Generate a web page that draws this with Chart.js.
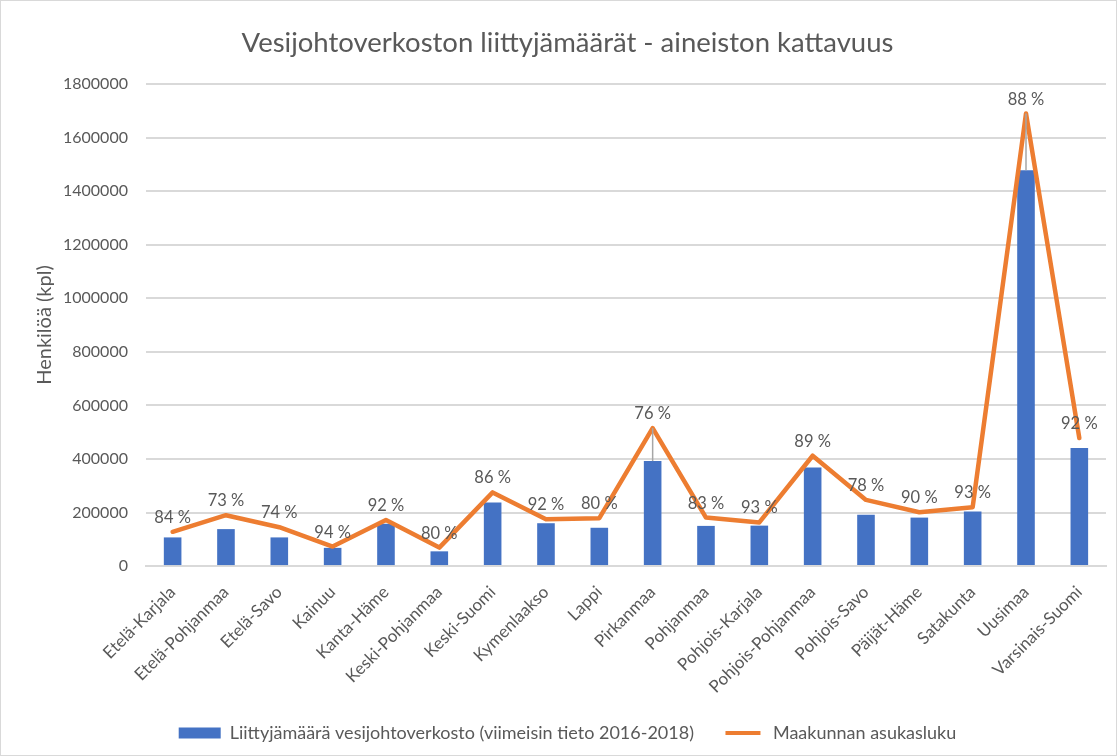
<!DOCTYPE html>
<html>
<head>
<meta charset="utf-8">
<script src="https://cdn.jsdelivr.net/npm/chart.js@4"></script>
<style>
  html, body { margin: 0; padding: 0; background: #fff; }
  #wrap { width: 1115px; height: 754px; border: 1px solid #d9d9d9; position: relative; }
</style>
</head>
<body>
<div id="wrap"><canvas id="chart"></canvas></div>
<script>
// regions
var categories = ['Etelä-Karjala', 'Etelä-Pohjanmaa', 'Etelä-Savo', 'Kainuu', 'Kanta-Häme',
    'Keski-Pohjanmaa', 'Keski-Suomi', 'Kymenlaakso', 'Lappi', 'Pirkanmaa', 'Pohjanmaa',
    'Pohjois-Karjala', 'Pohjois-Pohjanmaa', 'Pohjois-Savo', 'Päijät-Häme', 'Satakunta',
    'Uusimaa', 'Varsinais-Suomi'];
// connections to water network (bars)
var liittyjat = [107000, 138000, 107000, 68000, 158000, 55000, 237000, 160000, 143000,
    392000, 150000, 151000, 368000, 192000, 181000, 204000, 1478000, 441000];
// population per region (line)
var asukkaat = [128000, 190000, 145000, 73000, 172000, 69000, 275000, 175000, 179000,
    515000, 181000, 163000, 412000, 247000, 201000, 220000, 1690000, 478000];
// coverage labels
var kattavuus = [84, 73, 74, 94, 92, 80, 86, 92, 80, 76, 83, 93, 89, 78, 90, 93, 88, 92];
var yTicks = [0, 200000, 400000, 600000, 800000, 1000000, 1200000, 1400000, 1600000, 1800000];

var grey = '#595959';

// labels belong to the bars, moved up to the line; long ones get a leader line
var pctLabels = {
    id: 'pctLabels',
    afterDatasetsDraw: function (chart) {
        var ctx = chart.ctx;
        var bars = chart.getDatasetMeta(0).data;
        var pts = chart.getDatasetMeta(1).data;
        ctx.save();
        ctx.strokeStyle = '#a6a6a6';
        ctx.lineWidth = 1.5;
        pts.forEach(function (pt, i) {
            if (bars[i].y - pt.y > 25) {
                ctx.beginPath();
                ctx.moveTo(pt.x, bars[i].y);
                ctx.lineTo(pt.x, pt.y);
                ctx.stroke();
            }
        });
        ctx.font = '16.5px Lato, "Open Sans", sans-serif';
        ctx.fillStyle = grey;
        ctx.textAlign = 'center';
        ctx.textBaseline = 'bottom';
        pts.forEach(function (pt, i) {
            ctx.fillText(kattavuus[i] + ' %', pt.x, pt.y - 6);
        });
        ctx.restore();
    }
};

Chart.defaults.font.family = 'Lato, "Open Sans", sans-serif';
Chart.defaults.color = grey;

new Chart('chart', {
    type: 'bar',
    data: {
        labels: categories,
        datasets: [{
            type: 'bar',
            label: 'Liittyjämäärä vesijohtoverkosto (viimeisin tieto 2016-2018)',
            data: liittyjat,
            backgroundColor: '#4472C4',
            barPercentage: 0.33,
            categoryPercentage: 1,
            order: 1
        }, {
            type: 'line',
            label: 'Maakunnan asukasluku',
            data: asukkaat,
            borderColor: '#ED7D31',
            backgroundColor: '#ED7D31',
            borderWidth: 4.5,
            borderJoinStyle: 'round',
            borderCapStyle: 'round',
            pointRadius: 0,
            tension: 0,
            order: 0
        }]
    },
    options: {
        responsive: true,
        maintainAspectRatio: false,
        animation: false,
        layout: {
            padding: { left: 28, right: 10, top: 0, bottom: 3 }
        },
        scales: {
            y: {
                min: 0,
                max: 1800000,
                afterBuildTicks: function (axis) {
                    axis.ticks = yTicks.map(function (v) { return { value: v }; });
                },
                afterFit: function (axis) {
                    axis.width -= 20;
                },
                ticks: {
                    font: { size: 16 },
                    padding: 18,
                    callback: function (v) { return v; }
                },
                grid: { color: '#d9d9d9', lineWidth: 2, drawTicks: false },
                border: { display: false },
                title: {
                    display: true,
                    text: 'Henkilöä (kpl)',
                    font: { size: 20 },
                    padding: { top: 4, bottom: 8 }
                }
            },
            x: {
                afterFit: function (axis) {
                    axis.height -= 9;
                },
                ticks: {
                    font: { size: 17 },
                    minRotation: 45,
                    maxRotation: 45,
                    autoSkip: false,
                    padding: 8
                },
                grid: { display: false },
                border: { color: '#d9d9d9', width: 2 }
            }
        },
        plugins: {
            title: {
                display: true,
                text: 'Vesijohtoverkoston liittyjämäärät - aineiston kattavuus',
                font: { size: 27.5, weight: 'normal' },
                color: grey,
                padding: { top: 26, bottom: 24 }
            },
            legend: {
                position: 'bottom',
                labels: {
                    font: { size: 18 },
                    boxWidth: 42,
                    boxHeight: 11,
                    padding: 28,
                    sort: function (a, b) { return a.datasetIndex - b.datasetIndex; },
                    generateLabels: function (chart) {
                        var items = Chart.defaults.plugins.legend.labels.generateLabels(chart);
                        items.forEach(function (it) {
                            if (it.datasetIndex === 1) {
                                // thin orange line marker
                                it.fillStyle = '#ED7D31';
                                it.strokeStyle = '#ffffff';
                                it.lineWidth = 7;
                            } else {
                                it.lineWidth = 0;
                            }
                        });
                        return items;
                    }
                }
            },
            tooltip: { enabled: false }
        }
    },
    plugins: [pctLabels]
});
</script>
</body>
</html>
